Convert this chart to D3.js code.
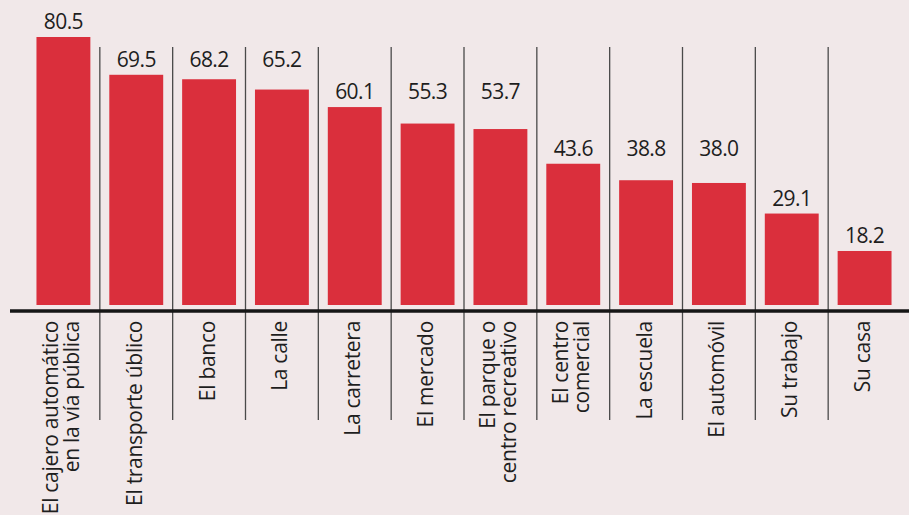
<!DOCTYPE html>
<html>
<head>
<meta charset="utf-8">
<script src="https://cdn.jsdelivr.net/npm/d3@7"></script>
<style>
  body { margin: 0; background: #f1e8e9; }
  svg { display: block; }
  .val { font-family: "Open Sans", sans-serif; font-size: 21px; letter-spacing: -0.6px; fill: #1e1e1e; }
  .cat { font-family: "Open Sans", sans-serif; font-size: 21px; letter-spacing: -0.3px; fill: #1e1e1e; }
</style>
</head>
<body>
<div id="chart"></div>
<script>
// categories (each entry = lines of the rotated label)
var categories = [
    ["El cajero automático", "en la vía pública"],
    ["El transporte úblico"],
    ["El banco"],
    ["La calle"],
    ["La carretera"],
    ["El mercado"],
    ["El parque o", "centro recreativo"],
    ["El centro", "comercial"],
    ["La escuela"],
    ["El automóvil"],
    ["Su trabajo"],
    ["Su casa"]
];
var values = [80.5, 69.5, 68.2, 65.2, 60.1, 55.3, 53.7, 43.6, 38.8, 38.0, 29.1, 18.2];
var valueLabels = ["80.5", "69.5", "68.2", "65.2", "60.1", "55.3", "53.7", "43.6", "38.8", "38.0", "29.1", "18.2"];

var width = 909, height = 515;
var barBottom = 305, baseY = 311, labelTop = 321;

var data = values.map(function (v, i) {
    return { key: i, lines: categories[i], value: v, text: valueLabels[i] };
});

var svg = d3.select("#chart")
    .append("svg")
    .attr("width", width)
    .attr("height", height);

var xScale = d3.scaleBand()
    .domain(data.map(function (d) { return d.key; }))
    .range([27, 901])
    .paddingInner(0.26)
    .paddingOuter(0.13);

var yScale = d3.scaleLinear()
    .domain([0, d3.max(values)])
    .range([313.5, 37]);

var step = xScale.step();

// separators between the categories
svg.selectAll(".sep")
    .data(data.slice(1))
    .enter().append("line")
    .attr("class", "sep")
    .attr("x1", function (d) { return xScale(d.key) - step * 0.13; })
    .attr("x2", function (d) { return xScale(d.key) - step * 0.13; })
    .attr("y1", 47)
    .attr("y2", 420)
    .attr("stroke", "#4a4a4a")
    .attr("stroke-width", 1.3);

// bars
svg.selectAll(".bar")
    .data(data)
    .enter().append("rect")
    .attr("class", "bar")
    .attr("x", function (d) { return xScale(d.key); })
    .attr("y", function (d) { return yScale(d.value); })
    .attr("width", xScale.bandwidth())
    .attr("height", function (d) { return barBottom - yScale(d.value); })
    .attr("fill", "#da2f3c");

// baseline
svg.append("line")
    .attr("x1", 10)
    .attr("x2", width)
    .attr("y1", baseY)
    .attr("y2", baseY)
    .attr("stroke", "#161616")
    .attr("stroke-width", 3.5);

// value labels: neighbours that sit close together share one row
var rowY = null;
data.forEach(function (d) {
    var natural = yScale(d.value) - 8;
    if (rowY === null || natural - rowY > 25) rowY = natural;
    d.labelY = rowY;
});

svg.selectAll(".val")
    .data(data)
    .enter().append("text")
    .attr("class", "val")
    .attr("x", function (d) { return xScale(d.key) + xScale.bandwidth() / 2; })
    .attr("y", function (d) { return d.labelY; })
    .attr("text-anchor", "middle")
    .text(function (d) { return d.text; });

// rotated category labels
var cat = svg.selectAll(".cat")
    .data(data)
    .enter().append("text")
    .attr("class", "cat")
    .attr("text-anchor", "end")
    .attr("transform", function (d) {
        var cx = xScale(d.key) + xScale.bandwidth() / 2 - 2;
        return "translate(" + cx + "," + labelTop + ") rotate(-90)";
    });

cat.selectAll("tspan")
    .data(function (d) {
        var n = d.lines.length;
        return d.lines.map(function (t, j) { return { t: t, off: (j - (n - 1) / 2) * 21 }; });
    })
    .enter().append("tspan")
    .attr("x", 0)
    .attr("y", function (d) { return d.off; })
    .attr("dy", "0.36em")
    .text(function (d) { return d.t; });
</script>
</body>
</html>
